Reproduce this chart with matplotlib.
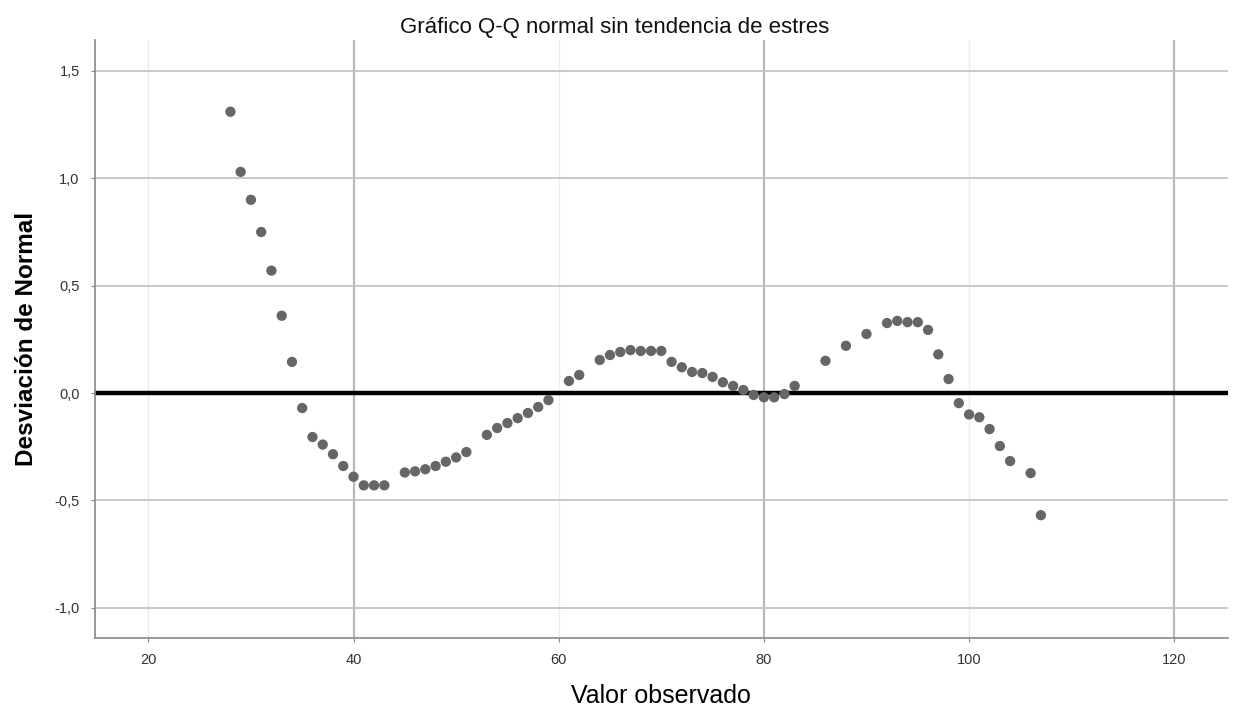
import matplotlib
matplotlib.use("Agg")
import matplotlib.pyplot as plt
from matplotlib.ticker import FuncFormatter

plt.rcParams['font.family'] = ['Liberation Sans', 'DejaVu Sans']

valor = [28, 29, 30, 31, 32, 33, 34, 35, 36, 37, 38, 39, 40, 41, 42, 43,
         45, 46, 47, 48, 49, 50, 51, 53, 54, 55, 56, 57, 58, 59, 61, 62,
         64, 65, 66, 67, 68, 69, 70, 71, 72, 73, 74, 75, 76, 77, 78, 79,
         80, 81, 82, 83, 86, 88, 90, 92, 93, 94, 95, 96, 97, 98, 99, 100,
         101, 102, 103, 104, 106, 107]
desviacion = [1.31, 1.03, 0.90, 0.75, 0.57, 0.36, 0.145, -0.07, -0.205, -0.24,
              -0.285, -0.34, -0.39, -0.43, -0.43, -0.43,
              -0.37, -0.365, -0.355, -0.34, -0.32, -0.30, -0.275,
              -0.195, -0.163, -0.14, -0.117, -0.093, -0.065, -0.033, 0.056, 0.084,
              0.154, 0.177, 0.191, 0.20, 0.196, 0.196, 0.196, 0.145, 0.12, 0.098,
              0.093, 0.075, 0.05, 0.033, 0.014, -0.009,
              -0.02, -0.02, -0.005, 0.033, 0.15, 0.22, 0.275, 0.326, 0.336, 0.33,
              0.33, 0.294, 0.18, 0.065, -0.047, -0.10,
              -0.113, -0.168, -0.247, -0.317, -0.373, -0.569]

x_ticks = [20, 40, 60, 80, 100, 120]
y_ticks = [-1.0, -0.5, 0.0, 0.5, 1.0, 1.5]

fig = plt.figure(figsize=(12.4, 7.15), dpi=100)
ax = fig.add_axes([0.0766, 0.108, 0.9134, 0.836])

ax.set_xlim(14.8, 125.2)
ax.set_ylim(-1.14, 1.644)

# grid: stronger lines at 40/80/120, faint at 20/60/100
for v in x_ticks:
    strong = v in (40, 80, 120)
    ax.axvline(v, color='#b8b8b8' if strong else '#ececec', lw=1.6 if strong else 1.0, zorder=0)
for v in y_ticks:
    ax.axhline(v, color='#c4c4c4', lw=1.3, zorder=0)

ax.axhline(0, color='black', lw=3.2, zorder=1)
ax.scatter(valor, desviacion, s=55, color='#666666', edgecolors='none', zorder=2)

ax.set_xticks(x_ticks)
ax.set_yticks(y_ticks)
ax.yaxis.set_major_formatter(FuncFormatter(lambda v, p: f"{v:.1f}".replace('.', ',')))
ax.tick_params(length=3, color='#888888', labelsize=10.5, labelcolor='#333333', pad=8)

for s in ('top', 'right'):
    ax.spines[s].set_visible(False)
for s in ('left', 'bottom'):
    ax.spines[s].set_color('#888888')
    ax.spines[s].set_linewidth(1.2)

fig.text(0.496, 0.962, 'Gráfico Q-Q normal sin tendencia de estres', fontsize=16,
         ha='center', va='center', color='#111111')
ax.set_xlabel('Valor observado', fontsize=18, labelpad=12)
ax.set_ylabel('Desviación de Normal', fontsize=17.5, fontweight='bold', labelpad=12)

fig.savefig('out.png', dpi=100)
